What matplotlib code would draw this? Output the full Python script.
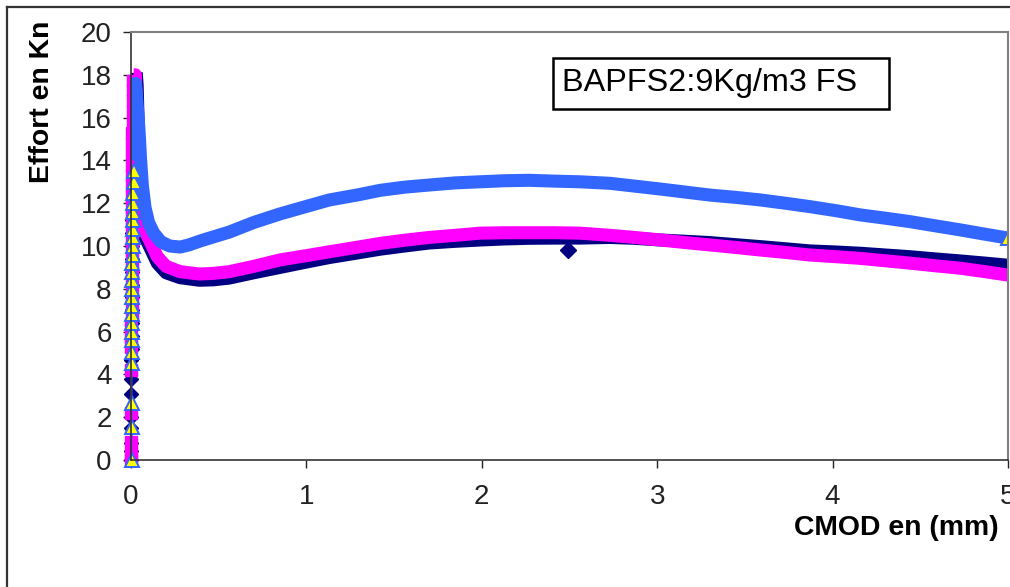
import numpy as np
import matplotlib
matplotlib.use('Agg')
import matplotlib.pyplot as plt
from matplotlib.patches import Rectangle
from matplotlib.lines import Line2D

plt.rcParams['font.family'] = ['Liberation Sans', 'DejaVu Sans']

# montée initiale (points espacés)
navy_rise_x = [0.0, 0.0, 0.0, 0.001, 0.001, 0.001, 0.002, 0.002, 0.003, 0.003,
               0.004, 0.004, 0.005, 0.005, 0.006, 0.006, 0.007, 0.007, 0.008, 0.009,
               0.010, 0.011, 0.012, 0.013, 0.014, 0.016, 0.018, 0.020, 0.022, 0.025]
navy_rise_y = [0.0, 0.4, 0.8, 1.5, 2.0, 3.1, 3.8, 4.67, 5.2, 5.8,
               6.4, 7.0, 7.6, 8.2, 8.8, 9.4, 10.0, 10.6, 11.2, 11.8,
               12.4, 13.0, 13.6, 14.2, 14.8, 15.4, 16.0, 16.6, 17.2, 17.8]

mag_rise_x = [0.0, 0.0, 0.0, 0.001, 0.001, 0.002, 0.002, 0.002, 0.003, 0.003,
              0.003, 0.004, 0.004, 0.004, 0.005, 0.005, 0.005, 0.006, 0.006, 0.006,
              0.007, 0.007, 0.007, 0.008, 0.008, 0.008, 0.009, 0.009, 0.010, 0.011, 0.012]
mag_rise_y = [0.0, 0.3, 0.86, 2.18, 4.2, 5.3, 5.8, 6.3, 6.8, 7.3,
              7.8, 8.3, 8.8, 9.3, 9.8, 10.3, 10.8, 11.3, 11.8, 12.3,
              12.8, 13.3, 13.8, 14.3, 14.8, 15.3, 15.8, 16.3, 16.8, 17.3, 17.7]

blue_rise_x = [0.003, 0.003, 0.004, 0.004, 0.004, 0.005, 0.005, 0.005, 0.006, 0.006,
               0.006, 0.007, 0.007, 0.008, 0.008, 0.009, 0.009, 0.010, 0.010, 0.011,
               0.012, 0.013, 0.014, 0.015, 0.016]
blue_rise_y = [0.0, 1.56, 2.65, 4.52, 5.06, 5.6, 6.0, 6.4, 6.8, 7.2,
               7.6, 8.0, 8.4, 8.8, 9.2, 9.6, 10.0, 10.4, 10.8, 11.2,
               11.6, 12.0, 12.5, 13.0, 13.5]

# courbe après le pic (points très serrés -> bande)
navy_x = [0.03, 0.035, 0.04, 0.045, 0.05, 0.08, 0.11, 0.15, 0.20, 0.28,
          0.39, 0.47, 0.56, 0.70, 0.85, 1.00, 1.13, 1.28, 1.42, 1.56,
          1.70, 1.85, 1.99, 2.13, 2.27, 2.42, 2.56, 2.73, 2.87, 3.02,
          3.16, 3.30, 3.45, 3.59, 3.73, 3.87, 4.02, 4.16, 4.30, 4.44,
          4.58, 4.73, 4.87, 5.00]
navy_y = [18.1, 17.5, 16.0, 13.0, 11.0, 10.4, 9.9, 9.2, 8.75, 8.52,
          8.4, 8.42, 8.5, 8.75, 9.0, 9.25, 9.46, 9.66, 9.85, 10.0,
          10.14, 10.22, 10.28, 10.33, 10.36, 10.37, 10.37, 10.40, 10.36, 10.28,
          10.22, 10.16, 10.06, 9.97, 9.87, 9.77, 9.72, 9.66, 9.58, 9.5,
          9.4, 9.3, 9.2, 9.1]
navy_out_x = [2.49]
navy_out_y = [9.8]

mag_x = [0.015, 0.025, 0.03, 0.035, 0.04, 0.05, 0.08, 0.11, 0.15, 0.20,
         0.28, 0.39, 0.47, 0.56, 0.70, 0.85, 1.00, 1.13, 1.28, 1.42,
         1.56, 1.70, 1.85, 1.99, 2.13, 2.27, 2.42, 2.56, 2.73, 2.87,
         3.02, 3.16, 3.30, 3.45, 3.59, 3.73, 3.87, 4.02, 4.16, 4.30,
         4.44, 4.58, 4.73, 4.87, 5.00]
mag_y = [18.0, 18.0, 16.5, 14.5, 12.5, 11.3, 10.7, 10.2, 9.5, 9.05,
         8.8, 8.69, 8.72, 8.8, 9.05, 9.35, 9.55, 9.73, 9.93, 10.12,
         10.27, 10.4, 10.5, 10.6, 10.62, 10.62, 10.62, 10.6, 10.5, 10.4,
         10.28, 10.16, 10.05, 9.93, 9.81, 9.7, 9.58, 9.5, 9.42, 9.31,
         9.2, 9.08, 8.96, 8.8, 8.64]

blue_x = [0.017, 0.019, 0.021, 0.023,
          0.025, 0.03, 0.045, 0.055, 0.065, 0.08, 0.10, 0.13, 0.17, 0.22,
          0.28, 0.33, 0.40, 0.50, 0.56, 0.70, 0.85, 1.00, 1.13, 1.30,
          1.42, 1.56, 1.70, 1.85, 1.99, 2.13, 2.27, 2.42, 2.56, 2.73,
          2.87, 3.02, 3.16, 3.30, 3.45, 3.59, 3.73, 3.87, 4.02, 4.16,
          4.30, 4.44, 4.58, 4.73, 4.87, 5.00]
blue_y = [14.0, 15.2, 16.4, 17.2,
          17.6, 17.2, 15.5, 14.0, 12.8, 11.8, 11.1, 10.6, 10.2, 10.0,
          9.95, 10.05, 10.25, 10.5, 10.65, 11.1, 11.5, 11.85, 12.15, 12.4,
          12.6, 12.75, 12.85, 12.95, 13.0, 13.05, 13.07, 13.03, 13.0, 12.93,
          12.8, 12.66, 12.52, 12.38, 12.27, 12.15, 12.0, 11.84, 11.65, 11.45,
          11.3, 11.14, 10.95, 10.75, 10.55, 10.37]

NAVY = '#000080'
MAG = '#FF00FF'
BLUE = '#3366FF'
YEL = '#FFFF00'

fig = plt.figure(figsize=(10.1, 5.87), dpi=100)
ax = fig.add_axes([131 / 1010, 127 / 587, 877 / 1010, 428 / 587])

band = dict(lw=9.4, solid_capstyle='butt', solid_joinstyle='round')

# série 1 : losanges bleu marine
ax.plot(navy_x, navy_y, color=NAVY, **band)
ax.plot(navy_rise_x, navy_rise_y, color=NAVY, lw=1, marker='D', ms=7.5, mfc=NAVY, mec=NAVY,
        clip_on=False)
ax.plot(navy_out_x, navy_out_y, 'D', color=NAVY, ms=8.5)

# série 2 : carrés magenta
ax.plot(mag_x, mag_y, color=MAG, **band)
ax.plot(mag_rise_x, mag_rise_y, color=MAG, lw=1, marker='s', ms=8.5, mfc=MAG, mec=MAG,
        clip_on=False)

# série 3 : triangles jaunes bord bleu
ax.plot(blue_x, blue_y, color=BLUE, **band)
ax.plot(blue_rise_x, blue_rise_y, color=BLUE, lw=1, marker='^', ms=10, mfc=YEL, mec=BLUE,
        mew=1.4, clip_on=False)
ax.plot(blue_x[-1:], blue_y[-1:], '^', ms=10, mfc=YEL, mec=BLUE, mew=1.4)

ax.set_xlim(0, 5)
ax.set_ylim(0, 20)
ax.set_xticks(range(0, 6))
ax.set_yticks(range(0, 21, 2))
ax.tick_params(direction='out', length=6, width=1, colors='#222222', labelsize=20)
ax.tick_params(axis='y', pad=8)
ax.tick_params(axis='x', pad=11)
for s in ['left', 'bottom']:
    ax.spines[s].set_color('#333333')
    ax.spines[s].set_linewidth(1.2)
for s in ['top', 'right']:
    ax.spines[s].set_color('#808080')
    ax.spines[s].set_linewidth(1.5)

# cadre de la légende texte
ax.add_patch(Rectangle((0.481, 0.820), 0.383, 0.120, transform=ax.transAxes,
                       fill=False, ec='black', lw=1.8, zorder=5))
ax.text(0.491, 0.880, 'BAPFS2:9Kg/m3 FS', transform=ax.transAxes,
        fontsize=23.3, va='center', ha='left', zorder=6)

fig.text(42 / 1010, 1 - 102 / 587, 'Effort en Kn', rotation=90, fontsize=20.4,
         fontweight='bold', ha='center', va='center')
fig.text(896 / 1010, 1 - 528 / 587, 'CMOD en (mm)', fontsize=20.4,
         fontweight='bold', ha='center', va='center')

# bordure du graphique
fig.add_artist(Line2D([7 / 1010, 7 / 1010], [0, 1 - 7 / 587], transform=fig.transFigure,
                      color='#333333', lw=1.6))
fig.add_artist(Line2D([7 / 1010, 1], [1 - 7 / 587, 1 - 7 / 587], transform=fig.transFigure,
                      color='#333333', lw=1.6))

fig.savefig('out.png', dpi=100)
